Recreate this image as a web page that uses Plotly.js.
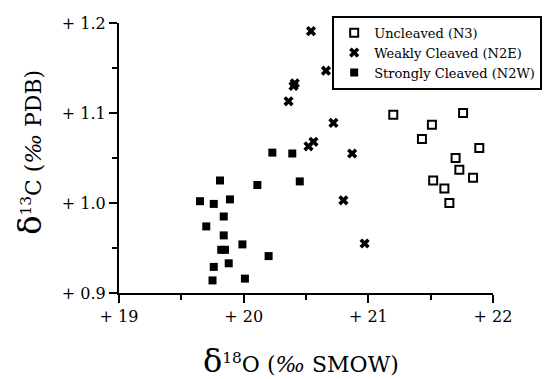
<!DOCTYPE html>
<html>
<head>
<meta charset="utf-8">
<script src="https://cdn.plot.ly/plotly-3.0.1.min.js"></script>
<style>html,body{margin:0;padding:0;background:#fff;}#chart{width:554px;height:379px;}</style>
</head>
<body>
<div id="chart"></div>
<script>
// Uncleaved (N3)
var uncleavedX = [21.20, 21.76, 21.51, 21.43, 21.89, 21.70, 21.73, 21.84, 21.52, 21.61, 21.65];
var uncleavedY = [1.098, 1.100, 1.087, 1.071, 1.061, 1.050, 1.037, 1.028, 1.025, 1.016, 1.000];
// Weakly Cleaved (N2E)
var weakX = [20.54, 20.66, 20.72, 20.52, 20.56, 20.87, 20.80, 20.97, 20.41, 20.40, 20.36];
var weakY = [1.191, 1.147, 1.089, 1.063, 1.068, 1.055, 1.003, 0.955, 1.133, 1.130, 1.113];
// Strongly Cleaved (N2W)
var strongX = [20.23, 20.39, 19.81, 20.11, 20.45, 19.65, 19.76, 19.89, 19.84, 19.70, 19.84, 19.99, 19.82, 19.85, 20.20, 19.88, 19.76, 19.75, 20.01];
var strongY = [1.056, 1.055, 1.025, 1.020, 1.024, 1.002, 0.999, 1.004, 0.985, 0.974, 0.964, 0.954, 0.948, 0.948, 0.941, 0.933, 0.929, 0.914, 0.916];

var seriesNames = ["Uncleaved (N3)", "Weakly Cleaved (N2E)", "Strongly Cleaved (N2W)"];
var xTickVals = [19, 20, 21, 22];
var xTickText = ["+ 19", "+ 20", "+ 21", "+ 22"];
var yTickVals = [0.9, 1.0, 1.1, 1.2];
var yTickText = ["+ 0.9", "+ 1.0", "+ 1.1", "+ 1.2"];
var xTitle = "<span style='font-size:32px'>δ</span><sup>18</sup>O (<i>‰</i> SMOW)";
var yTitle = "<span style='font-size:32px'>δ</span><sup>13</sup>C (<i>‰</i> PDB)";

var serif = "DejaVu Serif";

var traces = [
  {x: uncleavedX, y: uncleavedY, name: seriesNames[0], type: "scatter", mode: "markers",
   marker: {symbol: "square-open", size: 8, color: "black", line: {width: 2, color: "black"}}},
  {x: weakX, y: weakY, name: seriesNames[1], type: "scatter", mode: "markers",
   marker: {symbol: "x", size: 9, color: "black", line: {width: 0}}},
  {x: strongX, y: strongY, name: seriesNames[2], type: "scatter", mode: "markers",
   marker: {symbol: "square", size: 8, color: "black", line: {width: 0}}}
];

var layout = {
  width: 554, height: 379,
  margin: {l: 119, r: 52, t: 23, b: 86},
  paper_bgcolor: "white", plot_bgcolor: "white",
  font: {family: serif, color: "black", size: 16},
  showlegend: true,
  legend: {x: 0.57, y: 1.027, xanchor: "left", yanchor: "top",
           bordercolor: "black", borderwidth: 2, bgcolor: "white",
           font: {family: serif, size: 13, color: "black"}, tracegroupgap: 0, itemwidth: 30},
  xaxis: {range: [19, 22], tickvals: xTickVals, ticktext: xTickText, showgrid: false, zeroline: false,
          showline: true, linecolor: "black", linewidth: 2, ticks: "outside", ticklen: 8, tickwidth: 2, tickcolor: "black",
          minor: {tickvals: [19.5, 20.5, 21.5], ticks: "outside", ticklen: 5, tickwidth: 2, tickcolor: "black"},
          tickfont: {family: serif, size: 16, color: "black"}},
  yaxis: {range: [0.9, 1.2], tickvals: yTickVals, ticktext: yTickText, showgrid: false, zeroline: false,
          showline: true, linecolor: "black", linewidth: 2, ticks: "outside", ticklen: 8, tickwidth: 2, tickcolor: "black",
          minor: {tickvals: [0.95, 1.05, 1.15], ticks: "outside", ticklen: 5, tickwidth: 2, tickcolor: "black"},
          tickfont: {family: serif, size: 16, color: "black"}},
  annotations: [
    {text: xTitle, xref: "paper", yref: "paper",
     x: 0.487, y: -0.25, xanchor: "center", yanchor: "middle", showarrow: false,
     font: {family: serif, size: 22, color: "black"}},
    {text: yTitle, xref: "paper", yref: "paper",
     x: -0.24, y: 0.52, xanchor: "center", yanchor: "middle", textangle: -90, showarrow: false,
     font: {family: serif, size: 22, color: "black"}}
  ]
};

Plotly.newPlot("chart", traces, layout, {displayModeBar: false, staticPlot: true});
</script>
</body>
</html>
